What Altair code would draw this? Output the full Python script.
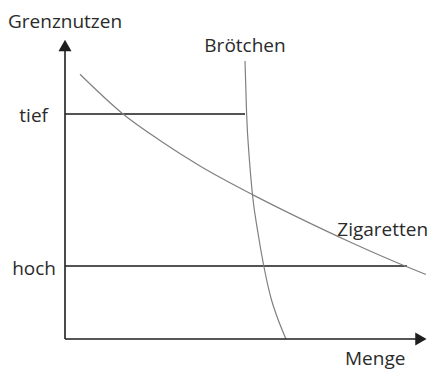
import altair as alt
import pandas as pd

# Axes (data units: Menge on x, Grenznutzen on y)
axis_x0 = [0.0, 0.0]
axis_y0 = [0.0, 0.0]
axis_x1 = [0.0, 10.05]
axis_y1 = [9.6, 0.0]

# arrow heads
arrow_x = [0.0, 10.169]
arrow_y = [9.783, 0.0]
arrow_shape = ["triangle-up", "triangle-right"]

# horizontal levels: tief / hoch
level_names = ["tief", "hoch"]
level_y = [7.5, 2.433]
level_xend = [5.143, 9.771]

# Brötchen curve
brot_x = [5.143, 5.189, 5.269, 5.354, 5.514, 5.680, 5.9, 6.051, 6.314]
brot_y = [9.267, 7.5, 5.967, 4.833, 3.533, 2.433, 1.3, 0.767, 0.0]

# Zigaretten curve
zig_x = [0.429, 1.657, 2.714, 3.857, 5.357, 6.714, 8.143, 9.714, 10.314]
zig_y = [8.823, 7.5, 6.617, 5.767, 4.813, 4.02, 3.233, 2.433, 2.15]

# labels
lab_text = ["Grenznutzen", "Brötchen", "Zigaretten", "Menge"]
lab_x = [-1.629, 5.143, 7.78, 8.0]
lab_y = [10.357, 9.577, 3.433, -0.883]
lab_align = ["left", "center", "left", "left"]

tick_text = ["tief", "hoch"]
tick_x = [-0.486, -0.257]
tick_y = [7.233, 2.133]

X = alt.Scale(domain=[-1.6286, 10.343], nice=False, zero=False)
Y = alt.Scale(domain=[-1.0667, 11.033], nice=False, zero=False)

FONT = "Open Sans"
FS = 19
TXT = "#2a2a2a"

axes_df = pd.DataFrame({"x": axis_x0, "y": axis_y0, "x2": axis_x1, "y2": axis_y1})
axes = alt.Chart(axes_df).mark_rule(color="#1e1e1e", strokeWidth=1.6).encode(
    x=alt.X("x:Q", scale=X, axis=None),
    y=alt.Y("y:Q", scale=Y, axis=None),
    x2="x2:Q",
    y2="y2:Q",
)

arrow_df = pd.DataFrame({"x": arrow_x, "y": arrow_y, "shape": arrow_shape})
arrows = alt.Chart(arrow_df).mark_point(filled=True, size=169, opacity=1, color="#1e1e1e").encode(
    x=alt.X("x:Q", scale=X, axis=None),
    y=alt.Y("y:Q", scale=Y, axis=None),
    shape=alt.Shape("shape:N", scale=None, legend=None),
)

lev_df = pd.DataFrame({"name": level_names, "x": [0.0, 0.0], "x2": level_xend, "y": level_y})
levels = alt.Chart(lev_df).mark_rule(color="#1a1a1a", strokeWidth=1.3).encode(
    x=alt.X("x:Q", scale=X, axis=None),
    x2="x2:Q",
    y=alt.Y("y:Q", scale=Y, axis=None),
)

curve_df = pd.concat([
    pd.DataFrame({"series": "Brötchen", "i": range(len(brot_x)), "x": brot_x, "y": brot_y}),
    pd.DataFrame({"series": "Zigaretten", "i": range(len(zig_x)), "x": zig_x, "y": zig_y}),
])
curves = alt.Chart(curve_df).mark_line(color="#808080", strokeWidth=1.2, interpolate="monotone").encode(
    x=alt.X("x:Q", scale=X, axis=None),
    y=alt.Y("y:Q", scale=Y, axis=None),
    detail="series:N",
    order="i:Q",
)

lab_df = pd.DataFrame({"t": lab_text, "x": lab_x, "y": lab_y, "a": lab_align})
texts = []
for al in ["left", "center"]:
    texts.append(
        alt.Chart(lab_df[lab_df.a == al]).mark_text(
            font=FONT, fontSize=FS, color=TXT, align=al, baseline="alphabetic"
        ).encode(
            x=alt.X("x:Q", scale=X, axis=None),
            y=alt.Y("y:Q", scale=Y, axis=None),
            text="t:N",
        )
    )

tick_df = pd.DataFrame({"t": tick_text, "x": tick_x, "y": tick_y})
ticks = alt.Chart(tick_df).mark_text(
    font=FONT, fontSize=FS, color=TXT, align="right", baseline="alphabetic"
).encode(
    x=alt.X("x:Q", scale=X, axis=None),
    y=alt.Y("y:Q", scale=Y, axis=None),
    text="t:N",
)

chart = alt.layer(levels, curves, axes, arrows, ticks, *texts).properties(
    width=419, height=363, padding=0, autosize=alt.AutoSizeParams(type="none"),
    background="white",
).configure_view(stroke=None)

chart.save("out.html", embed_options={"renderer": "svg", "actions": False})
